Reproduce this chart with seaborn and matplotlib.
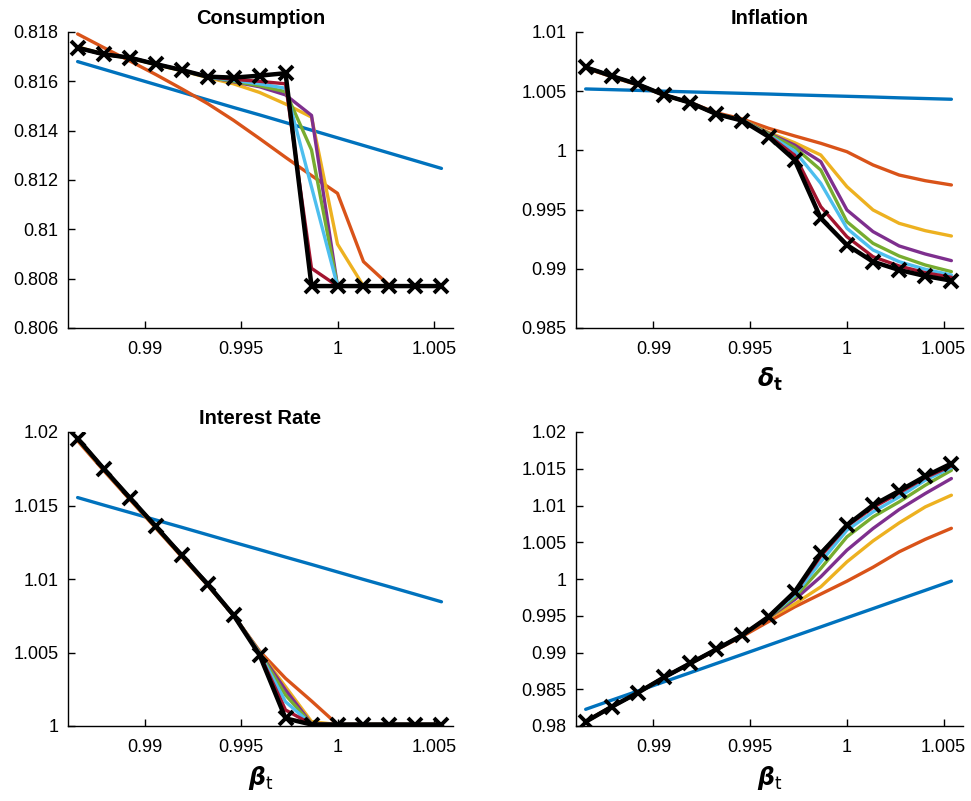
import numpy as np
import pandas as pd
import matplotlib
matplotlib.use("Agg")
import matplotlib.pyplot as plt
import seaborn as sns

# ---------------- data ----------------
beta = [0.9865, 0.98785, 0.9892, 0.99055, 0.9919, 0.99325, 0.9946, 0.99595,
        0.9973, 0.99865, 1.0, 1.00135, 1.0027, 1.00405, 1.0054]

# Consumption
cons_blue = [0.81680, 0.81649, 0.81618, 0.81587, 0.81556, 0.81525, 0.81494, 0.81464,
             0.81433, 0.81402, 0.81371, 0.81340, 0.81309, 0.81278, 0.81247]
cons_orange = [0.81792, 0.81737, 0.81683, 0.81628, 0.81570, 0.81510, 0.81442, 0.81368,
               0.81292, 0.81218, 0.81146, 0.80869, 0.80772, 0.80770, 0.80770]
cons_yellow = [0.81740, 0.81710, 0.81694, 0.81668, 0.81643, 0.81615, 0.81590, 0.81555,
               0.81508, 0.81455, 0.80940, 0.80770, 0.80770, 0.80770, 0.80770]
cons_purple = [0.81736, 0.81710, 0.81696, 0.81670, 0.81645, 0.81618, 0.81598, 0.81578,
               0.81545, 0.81462, 0.80770, 0.80770, 0.80770, 0.80770, 0.80770]
cons_green = [0.81736, 0.81710, 0.81696, 0.81670, 0.81645, 0.81618, 0.81600, 0.81582,
              0.81558, 0.81322, 0.80770, 0.80770, 0.80770, 0.80770, 0.80770]
cons_lblue = [0.81736, 0.81710, 0.81696, 0.81670, 0.81645, 0.81618, 0.81604, 0.81590,
              0.81572, 0.81172, 0.80770, 0.80770, 0.80770, 0.80770, 0.80770]
cons_dred = [0.81736, 0.81710, 0.81696, 0.81670, 0.81646, 0.81619, 0.81608, 0.81600,
             0.81590, 0.80842, 0.80770, 0.80770, 0.80770, 0.80770, 0.80770]
cons_black = [0.81736, 0.81710, 0.81696, 0.81670, 0.81646, 0.81619, 0.81615, 0.81623,
              0.81633, 0.80770, 0.80770, 0.80770, 0.80770, 0.80770, 0.80770]

# Inflation
infl_blue = [1.00519, 1.00513, 1.00507, 1.00500, 1.00494, 1.00488, 1.00482, 1.00476,
             1.00469, 1.00463, 1.00457, 1.00451, 1.00444, 1.00438, 1.00432]
infl_orange = [1.00695, 1.00622, 1.00552, 1.00468, 1.00405, 1.00318, 1.00265, 1.00187,
               1.00122, 1.00060, 0.99989, 0.99877, 0.99792, 0.99744, 0.99708]
infl_yellow = [1.00700, 1.00626, 1.00555, 1.00466, 1.00402, 1.00308, 1.00258, 1.00152,
               1.00065, 0.99961, 0.99694, 0.99497, 0.99384, 0.99322, 0.99277]
infl_purple = [1.00702, 1.00628, 1.00558, 1.00468, 1.00403, 1.00307, 1.00256, 1.00145,
               1.00045, 0.99905, 0.99497, 0.99314, 0.99193, 0.99125, 0.99069]
infl_green = [1.00702, 1.00628, 1.00558, 1.00468, 1.00403, 1.00307, 1.00255, 1.00140,
              1.00025, 0.99834, 0.99398, 0.99215, 0.99108, 0.99032, 0.98976]
infl_lblue = [1.00702, 1.00628, 1.00558, 1.00468, 1.00403, 1.00307, 1.00254, 1.00130,
              0.99995, 0.99722, 0.99342, 0.99159, 0.99060, 0.98996, 0.98948]
infl_dred = [1.00702, 1.00628, 1.00558, 1.00468, 1.00403, 1.00307, 1.00252, 1.00125,
             0.99960, 0.99525, 0.99271, 0.99102, 0.99024, 0.98967, 0.98928]
infl_black = [1.00702, 1.00628, 1.00558, 1.00468, 1.00403, 1.00307, 1.00251, 1.00116,
              0.99919, 0.99427, 0.99201, 0.99060, 0.98990, 0.98939, 0.98900]

# Interest Rate
rate_blue = [1.01554, 1.01503, 1.01453, 1.01402, 1.01352, 1.01301, 1.01250, 1.01200,
             1.01149, 1.01099, 1.01048, 1.00997, 1.00947, 1.00896, 1.00845]
rate_orange = [1.01940, 1.01738, 1.01542, 1.01348, 1.01152, 1.00958, 1.00752, 1.00510,
               1.00324, 1.00170, 1.00010, 1.00010, 1.00010, 1.00010, 1.00010]
rate_yellow = [1.01948, 1.01745, 1.01548, 1.01353, 1.01157, 1.00960, 1.00753, 1.00505,
               1.00267, 1.00030, 1.00010, 1.00010, 1.00010, 1.00010, 1.00010]
rate_purple = [1.01955, 1.01751, 1.01554, 1.01359, 1.01162, 1.00965, 1.00754, 1.00502,
               1.00245, 1.00015, 1.00010, 1.00010, 1.00010, 1.00010, 1.00010]
rate_green = [1.01955, 1.01751, 1.01554, 1.01359, 1.01162, 1.00965, 1.00754, 1.00499,
              1.00211, 1.00012, 1.00010, 1.00010, 1.00010, 1.00010, 1.00010]
rate_lblue = [1.01955, 1.01751, 1.01554, 1.01359, 1.01162, 1.00965, 1.00754, 1.00495,
              1.00165, 1.00012, 1.00010, 1.00010, 1.00010, 1.00010, 1.00010]
rate_dred = [1.01955, 1.01751, 1.01554, 1.01359, 1.01162, 1.00965, 1.00754, 1.00490,
             1.00109, 1.00012, 1.00010, 1.00010, 1.00010, 1.00010, 1.00010]
rate_black = [1.01955, 1.01751, 1.01554, 1.01359, 1.01162, 1.00965, 1.00754, 1.00483,
              1.00052, 1.00010, 1.00010, 1.00010, 1.00010, 1.00010, 1.00010]

# Fourth panel (untitled)
out_blue = [0.98227, 0.98352, 0.98476, 0.98601, 0.98725, 0.98850, 0.98974, 0.99099,
            0.99224, 0.99348, 0.99473, 0.99597, 0.99722, 0.99846, 0.99971]
out_orange = [0.98062, 0.98265, 0.98455, 0.98662, 0.98850, 0.99036, 0.99220, 0.99420,
              0.99620, 0.99795, 0.99970, 1.00160, 1.00370, 1.00540, 1.00690]
out_yellow = [0.98060, 0.98263, 0.98454, 0.98662, 0.98852, 0.99043, 0.99235, 0.99470,
              0.99660, 0.99893, 1.00233, 1.00518, 1.00763, 1.00981, 1.01140]
out_purple = [0.98058, 0.98262, 0.98453, 0.98662, 0.98852, 0.99043, 0.99236, 0.99475,
              0.99720, 1.00030, 1.00392, 1.00687, 1.00945, 1.01163, 1.01367]
out_green = [0.98058, 0.98262, 0.98453, 0.98662, 0.98852, 0.99043, 0.99237, 0.99478,
             0.99750, 1.00143, 1.00573, 1.00845, 1.01049, 1.01276, 1.01479]
out_lblue = [0.98058, 0.98262, 0.98453, 0.98662, 0.98852, 0.99043, 0.99237, 0.99482,
             0.99780, 1.00233, 1.00664, 1.00913, 1.01117, 1.01344, 1.01516]
out_dred = [0.98058, 0.98262, 0.98453, 0.98662, 0.98852, 0.99043, 0.99237, 0.99484,
            0.99810, 1.00311, 1.00718, 1.00973, 1.01171, 1.01380, 1.01538]
out_black = [0.98058, 0.98262, 0.98453, 0.98662, 0.98852, 0.99043, 0.99237, 0.99486,
             0.99825, 1.00347, 1.00732, 1.01004, 1.01198, 1.01398, 1.01571]

colors = ["#0072BD", "#D95319", "#EDB120", "#7E2F8E", "#77AC30", "#4DBEEE", "#A2142F", "#000000"]

panels = [
    dict(series=[cons_blue, cons_orange, cons_yellow, cons_purple, cons_green, cons_lblue, cons_dred, cons_black],
         title="Consumption", xlabel=None,
         yticks=[0.806, 0.808, 0.81, 0.812, 0.814, 0.816, 0.818], ylim=(0.806, 0.818),
         pos=[68, 32, 453, 328]),
    dict(series=[infl_blue, infl_orange, infl_yellow, infl_purple, infl_green, infl_lblue, infl_dred, infl_black],
         title="Inflation", xlabel=r"$\boldsymbol{\delta}_{\mathbf{t}}$",
         yticks=[0.985, 0.99, 0.995, 1, 1.005, 1.01], ylim=(0.985, 1.01),
         pos=[576, 32, 963, 328]),
    dict(series=[rate_blue, rate_orange, rate_yellow, rate_purple, rate_green, rate_lblue, rate_dred, rate_black],
         title="Interest Rate", xlabel=r"$\boldsymbol{\beta}_{\mathrm{t}}$",
         yticks=[1, 1.005, 1.01, 1.015, 1.02], ylim=(1.0, 1.02),
         pos=[68, 432, 453, 726]),
    dict(series=[out_blue, out_orange, out_yellow, out_purple, out_green, out_lblue, out_dred, out_black],
         title=None, xlabel=r"$\boldsymbol{\beta}_{\mathrm{t}}$",
         yticks=[0.98, 0.985, 0.99, 0.995, 1, 1.005, 1.01, 1.015, 1.02], ylim=(0.98, 1.02),
         pos=[576, 432, 963, 726]),
]
xticks = [0.99, 0.995, 1, 1.005]

# ---------------- style ----------------
sns.set_theme(style="white")
plt.rcParams["font.family"] = ["Liberation Sans", "DejaVu Sans"]
plt.rcParams["mathtext.fontset"] = "dejavusans"
plt.rcParams["text.color"] = "black"
plt.rcParams["axes.labelcolor"] = "black"
plt.rcParams["axes.titlecolor"] = "black"

W, H = 971, 801
fig = plt.figure(figsize=(W / 100, H / 100), dpi=100)

def fmt(v):
    return ("%g" % v)

for p in panels:
    x0, y0, x1, y1 = p["pos"]
    ax = fig.add_axes([x0 / W, 1 - y1 / H, (x1 - x0) / W, (y1 - y0) / H])
    for s, c in zip(p["series"], colors):
        if c == "#000000":
            sns.lineplot(x=beta, y=s, ax=ax, color=c, linewidth=3.2, marker="x",
                         markersize=9.5, markeredgewidth=2.8, markeredgecolor="black",
                         markerfacecolor="black", estimator=None, sort=False)
        else:
            sns.lineplot(x=beta, y=s, ax=ax, color=c, linewidth=2.4,
                         estimator=None, sort=False)
    ax.set_xlim(0.986, 1.006)
    ax.set_ylim(*p["ylim"])
    ax.set_xticks(xticks)
    ax.set_xticklabels([fmt(v) for v in xticks])
    ax.set_yticks(p["yticks"])
    ax.set_yticklabels([fmt(v) for v in p["yticks"]])
    for side in ["top", "right"]:
        ax.spines[side].set_visible(False)
    for side in ["left", "bottom"]:
        ax.spines[side].set_color("black")
        ax.spines[side].set_linewidth(1.0)
    ax.tick_params(direction="in", length=5, width=1, colors="black",
                   labelsize=13, left=True, bottom=True)
    ax.tick_params(axis="x", pad=9)
    ax.tick_params(axis="y", pad=7)
    ax.set_xlabel("")
    ax.set_ylabel("")
    if p["title"]:
        ax.set_title(p["title"], fontsize=14.5, fontweight="bold", pad=6, color="black")
    if p["xlabel"]:
        ax.set_xlabel(p["xlabel"], fontsize=17, labelpad=6, color="black")

fig.savefig("out.png", dpi=100)
